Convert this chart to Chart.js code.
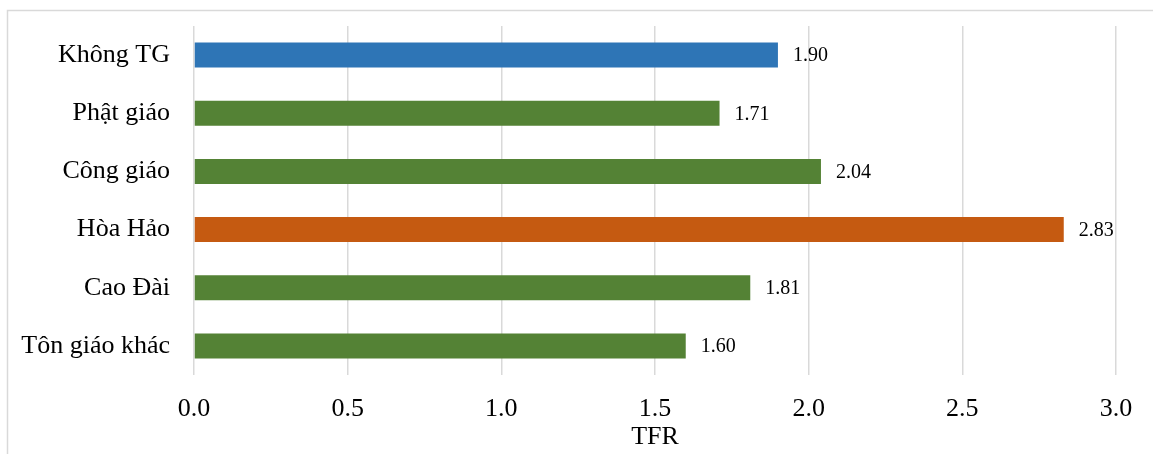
<!DOCTYPE html>
<html>
<head>
<meta charset="utf-8">
<script src="https://cdn.jsdelivr.net/npm/chart.js@4"></script>
<style>
  body { margin: 0; background: #fff; }
  canvas { display: block; }
</style>
</head>
<body>
<canvas id="my-canvas" width="1153" height="454"></canvas>
<script>
const religions = ["Không TG", "Phật giáo", "Công giáo", "Hòa Hảo", "Cao Đài", "Tôn giáo khác"]
const tfr = [1.90, 1.71, 2.04, 2.83, 1.81, 1.60]
const barColors = ["#2E75B6", "#548235", "#548235", "#C55A11", "#548235", "#548235"]
const xTicks = [0, 0.5, 1.0, 1.5, 2.0, 2.5, 3.0]

window.onload = () => {
    const canvas = document.querySelector("#my-canvas")
    const ctx = canvas.getContext('2d')
    const serif = "'Liberation Serif', 'Times New Roman', serif"

    // light frame along the top and left edge
    const frame = {
        id: 'frame',
        beforeDraw(chart) {
            const c = chart.ctx
            c.save()
            c.strokeStyle = '#d9d9d9'
            c.lineWidth = 1.5
            c.beginPath()
            c.moveTo(7.5, 460)
            c.lineTo(7.5, 10.5)
            c.lineTo(1160, 10.5)
            c.stroke()
            c.restore()
        }
    }

    // value printed just past the end of each bar
    const valueLabels = {
        id: 'valueLabels',
        afterDatasetsDraw(chart) {
            const c = chart.ctx
            const meta = chart.getDatasetMeta(0)
            c.save()
            c.font = "20px " + serif
            c.fillStyle = '#000'
            c.textAlign = 'left'
            c.textBaseline = 'middle'
            meta.data.forEach((bar, i) => {
                c.fillText(tfr[i].toFixed(2), bar.x + 15, bar.y + 1)
            })
            c.restore()
        }
    }

    new Chart(ctx, {
        type: 'bar',
        data: {
            labels: religions,
            datasets: [
                {
                    data: tfr,
                    backgroundColor: barColors,
                    barPercentage: 0.43,
                    categoryPercentage: 1
                }
            ]
        },
        options: {
            indexAxis: 'y',
            responsive: false,
            animation: false,
            layout: { padding: { top: 26, right: 37, left: 0, bottom: 0 } },
            plugins: {
                legend: { display: false },
                tooltip: { enabled: false }
            },
            scales: {
                x: {
                    min: 0,
                    max: 3,
                    afterBuildTicks: (axis) => {
                        axis.ticks = xTicks.map(v => ({ value: v }))
                    },
                    afterFit: (axis) => { axis.height = 79 },
                    grid: { color: '#d9d9d9', lineWidth: 1.5, drawTicks: false },
                    border: { display: false },
                    ticks: {
                        padding: 19,
                        color: '#000',
                        font: { family: serif, size: 26 },
                        callback: (v) => Number(v).toFixed(1)
                    },
                    title: {
                        display: true,
                        text: 'TFR',
                        color: '#000',
                        font: { family: serif, size: 26 },
                        padding: { top: 0, bottom: 1 }
                    }
                },
                y: {
                    afterFit: (axis) => {
                        axis.width = 194
                        axis.paddingTop = 0
                        axis.paddingBottom = 0
                    },
                    grid: { display: false, drawTicks: false },
                    border: { display: false },
                    ticks: {
                        padding: 24,
                        color: '#000',
                        font: { family: serif, size: 26 }
                    }
                }
            }
        },
        plugins: [frame, valueLabels]
    })
}
</script>
</body>
</html>
